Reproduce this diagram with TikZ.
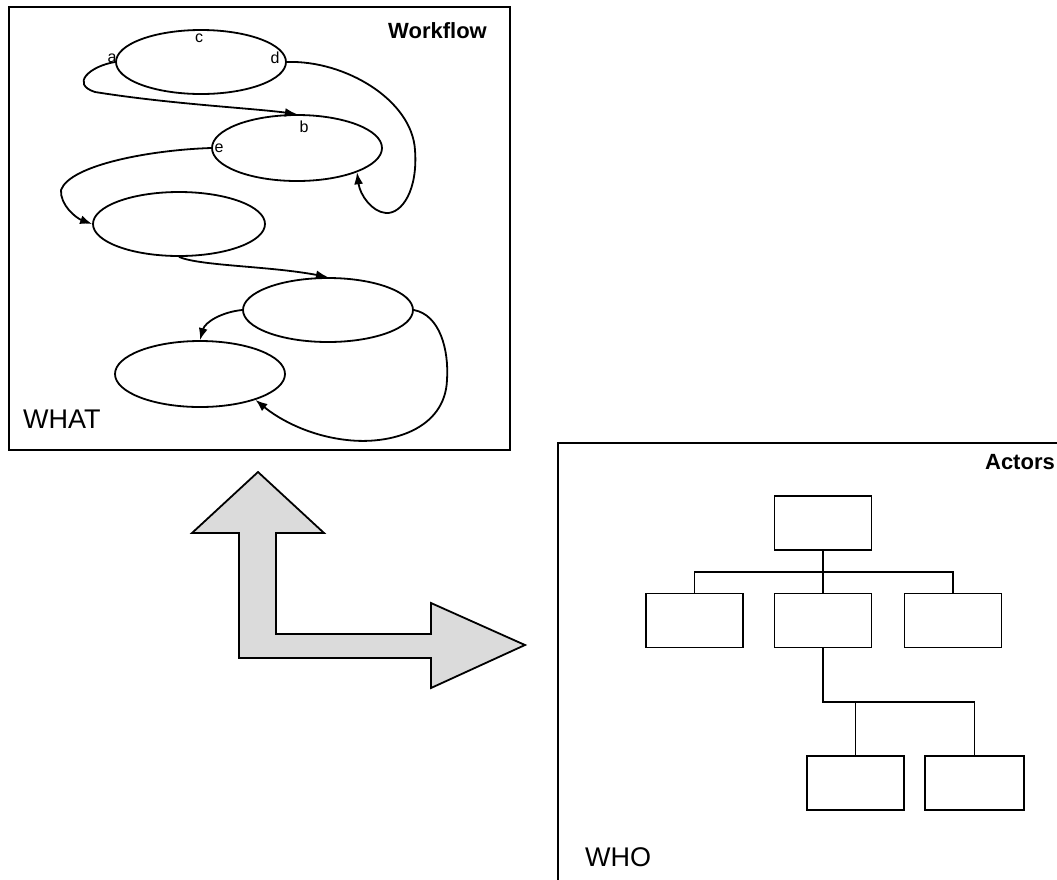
\documentclass[tikz,border=0pt]{standalone}
\usepackage{fontspec}
\setmainfont{Liberation Sans}
\usetikzlibrary{shapes.geometric,arrows.meta}
\tikzset{
  state/.style={ellipse,draw,line width=1.8pt,minimum width=170pt,minimum height=64pt,inner sep=0pt},
  flow/.style={line width=1.8pt,-{Latex[length=12pt,width=9pt]}},
  lbl/.style={inner sep=0pt,font=\fontsize{16pt}{16pt}\selectfont},
  title/.style={inner sep=0pt,font=\bfseries\fontsize{22pt}{22pt}\selectfont},
  big/.style={inner sep=0pt,font=\fontsize{27pt}{27pt}\selectfont},
  frame/.style={draw,line width=1.6pt},
  orgbox/.style={rectangle,draw,line width=1.8pt,minimum width=97pt,minimum height=54pt,inner sep=0pt},
  orgline/.style={line width=1.8pt},
  bigarrow/.style={draw,line width=1.8pt,fill=black!14,line join=miter}
}
\begin{document}
\begin{tikzpicture}[x=1pt,y=-1pt]
\useasboundingbox (0,0) rectangle (1057,879);
\fill[white] (0,0) rectangle (1057,879);

% ---------- Workflow panel ----------
\draw[frame] (9,7) rectangle (510,450);
\node[title,anchor=east] (wf) at (487,31) {Workflow};
\node[big,anchor=west] (what) at (23,419) {WHAT};

\node[state] (e1) at (201,62) {};
\node[state,minimum height=66pt] (e2) at (297,148) {};
\node[state,minimum width=172pt] (e3) at (179,224) {};
\node[state] (e4) at (328,310) {};
\node[state,minimum height=66pt] (e5) at (200,374) {};

\node[lbl] (la) at (112,58) {a};
\node[lbl] (lc) at (199,38) {c};
\node[lbl] (ld) at (275,58) {d};
\node[lbl] (lb) at (304,127) {b};
\node[lbl] (le) at (219,148) {e};

\draw[flow] (e1.west) .. controls (90,66) and (70,84) .. (95,92)
            .. controls (170,104) and (250,108) .. (e2.north);
\draw[flow] (e1.east) .. controls (345,60) and (412,100) .. (415,150)
            .. controls (418,190) and (402,214) .. (386,213)
            .. controls (372,212) and (360,195) .. (e2.-22);
\draw[flow] (e2.west) .. controls (150,150) and (70,165) .. (61,190)
            .. controls (60,205) and (76,218) .. (e3.west);
\draw[flow] (e3.south) .. controls (200,266) and (270,266) .. (e4.north);
\draw[flow] (e4.west) .. controls (222,312) and (205,322) .. (e5.north);
\draw[flow] (e4.east) .. controls (440,315) and (449,350) .. (447,380)
            .. controls (445,430) and (390,445) .. (347,440)
            .. controls (310,436) and (280,420) .. (e5.-25);

% ---------- Big L arrow ----------
\draw[bigarrow] (258,472) -- (324,533) -- (276,533) -- (276,634) -- (431,634)
  -- (431,603) -- (525,645) -- (431,688) -- (431,658) -- (239,658)
  -- (239,533) -- (192,533) -- cycle;

% ---------- Actors panel ----------
\draw[frame] (558,890) -- (558,443) -- (1070,443);
\node[title,anchor=east] (act) at (1055,462) {Actors};
\node[big,anchor=west] (who) at (585,857) {WHO};

\node[orgbox] (r0) at (823,523) {};
\node[orgbox] (r1) at (694.5,620.5) {};
\node[orgbox] (r2) at (823,620.5) {};
\node[orgbox] (r3) at (953,620.5) {};
\node[orgbox] (r4) at (855.5,783) {};
\node[orgbox,minimum width=99pt] (r5) at (974.5,783) {};

\coordinate (bus1) at (823,572);
\coordinate (bus2) at (823,702);

\draw[orgline] (r0.south) -- (r2.north);
\draw[orgline] (r1.north) -- (r1.north |- bus1) -- (r3.north |- bus1) -- (r3.north);
\draw[orgline] (r2.south) -- (r2.south |- bus2) -- (r5.north |- bus2) -- (r5.north);
\draw[orgline] (r4.north) -- (r4.north |- bus2);
\end{tikzpicture}
\end{document}
